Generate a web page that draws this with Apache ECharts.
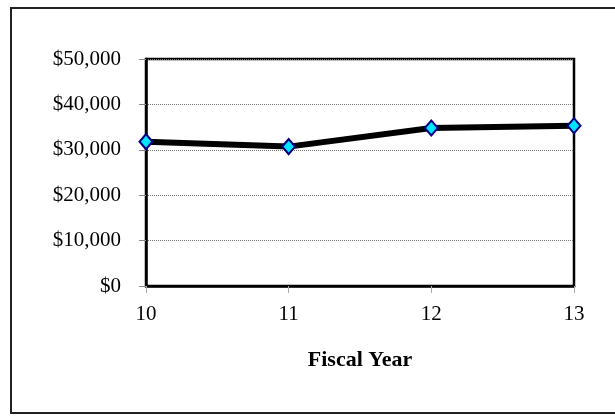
<!DOCTYPE html>
<html>
<head>
<meta charset="utf-8">
<script src="https://cdn.jsdelivr.net/npm/echarts@6/dist/echarts.min.js"></script>
<style>
  html, body { margin: 0; padding: 0; background: #fff; }
  #chart { width: 615px; height: 416px; }
</style>
</head>
<body>
<div id="chart"></div>
<script>
// Fiscal years and amounts
const fiscalYears = ['10', '11', '12', '13'];
const amounts = [31800, 30700, 34800, 35300];
const yTicks = [0, 10000, 20000, 30000, 40000, 50000];

const fmt = v => '$' + v.toLocaleString('en-US');
const serif = '"Liberation Serif", "Times New Roman", serif';

const chart = echarts.init(document.getElementById('chart'));
chart.setOption({
  animation: false,
  backgroundColor: '#fff',
  graphic: [{
    // outer chart-area frame (runs off the right edge)
    type: 'rect',
    shape: { x: 11, y: 8, width: 620, height: 405 },
    style: { fill: 'none', stroke: '#222', lineWidth: 2 },
    silent: true
  }],
  grid: {
    left: 146, right: 41, top: 59, bottom: 130,
    show: true, borderColor: '#000', borderWidth: 2.5, backgroundColor: 'transparent'
  },
  xAxis: {
    type: 'category',
    data: fiscalYears,
    boundaryGap: false,
    name: 'Fiscal Year',
    nameLocation: 'middle',
    nameGap: 63,
    nameTextStyle: { fontFamily: serif, fontWeight: 'bold', fontSize: 22, color: '#000' },
    axisLine: { show: true, lineStyle: { color: '#000', width: 2.5 } },
    axisTick: { show: true, alignWithLabel: true, length: 7, inside: false, lineStyle: { color: '#aaa' } },
    axisLabel: { fontFamily: serif, fontSize: 21, color: '#000', margin: 18 },
    splitLine: { show: false }
  },
  yAxis: {
    type: 'value',
    min: yTicks[0],
    max: yTicks[yTicks.length - 1],
    interval: yTicks[1] - yTicks[0],
    axisLine: { show: true, lineStyle: { color: '#000', width: 2.5 } },
    axisTick: { show: true, length: 7, lineStyle: { color: '#888' } },
    axisLabel: { fontFamily: serif, fontSize: 21, color: '#000', margin: 25, formatter: fmt },
    splitLine: { show: true, lineStyle: { color: '#777', type: [1, 1], width: 1 } }
  },
  series: [{
    type: 'line',
    data: amounts,
    symbol: 'diamond',
    symbolSize: [13, 15],
    lineStyle: { color: '#000', width: 6 },
    itemStyle: { color: '#00e5ff', borderColor: '#000080', borderWidth: 2 },
    z: 5
  }]
});
</script>
</body>
</html>
